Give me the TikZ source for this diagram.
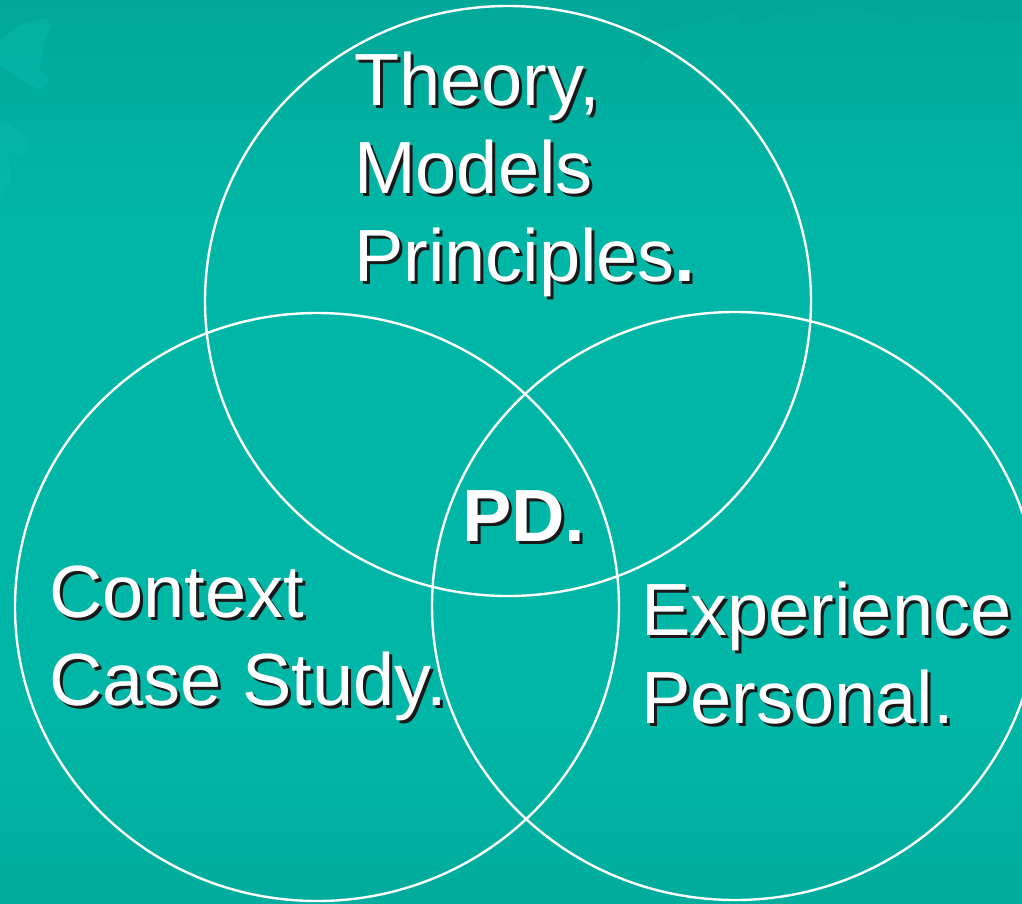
\documentclass[tikz,border=0pt]{standalone}
\usepackage{fontspec}
\setmainfont{Liberation Sans}
% white text with a black drop shadow, offset down and to the right
\newcommand\shadowed[1]{%
  \rlap{\kern3pt\raisebox{-3pt}{\color{black!90}#1}}#1}
\begin{document}
\begin{tikzpicture}[x=1pt,y=-1pt,
  ring/.style={draw=white,line width=2.4pt},
  lbl/.style={text=white,inner sep=0pt,anchor=base west,
    font=\fontsize{74}{88}\selectfont},
  blob/.style={fill=#1,draw=none}]
\definecolor{teal top}{HTML}{00A898}
\definecolor{teal mid}{HTML}{00B6A6}
\definecolor{teal low}{HTML}{00AC9C}
\definecolor{teal light}{HTML}{08BAAA}
\definecolor{teal dark}{HTML}{00A696}

\useasboundingbox (0,0) rectangle (1022,903);
% background
\fill[teal mid] (0,0) rectangle (1022,903);
\shade[top color=teal top,bottom color=teal mid] (0,0) rectangle (1022,220);
\shade[top color=teal mid,bottom color=teal low] (0,720) rectangle (1022,903);
% faint map shapes
\fill[blob=teal light,opacity=0.5] (0,40) -- (20,25) -- (45,18) -- (52,25) -- (44,45)
  -- (40,70) -- (50,80) -- (40,90) -- (22,80) -- (0,65) -- cycle;
\fill[blob=teal light,opacity=0.5] (0,120) -- (10,125) -- (30,140) -- (25,155) -- (8,150)
  -- (10,180) -- (0,200) -- cycle;
\fill[blob=teal dark,opacity=0.7] (640,0) -- (1022,0) -- (1022,20) -- (985,22) -- (940,14)
  -- (900,18) -- (860,8) -- (780,10) -- (745,28) -- (735,10) -- (700,22) -- (660,30)
  -- (650,55) -- (640,62) -- cycle;

% the three rings
\draw[ring] (508,301) ellipse [x radius=303pt,y radius=295pt];
\draw[ring] (317,607) ellipse [x radius=302pt,y radius=294pt];
\draw[ring] (735,606) ellipse [x radius=303pt,y radius=294pt];

% labels
\node[lbl] (theory)     at (354,105) {\shadowed{Theory,}};
\node[lbl] (models)     at (354,193) {\shadowed{Models}};
\node[lbl] (principles) at (354,281) {\shadowed{Principles\textbf{.}}};
\node[lbl] (pd)         at (462,541) {\shadowed{\textbf{PD.}}};
\node[lbl] (context)    at (49,617)  {\shadowed{Context}};
\node[lbl] (casestudy)  at (49,705)  {\shadowed{Case Study.}};
\node[lbl] (experience) at (641,635) {\shadowed{Experience}};
\node[lbl] (personal)   at (641,723) {\shadowed{Personal.}};
\end{tikzpicture}
\end{document}
